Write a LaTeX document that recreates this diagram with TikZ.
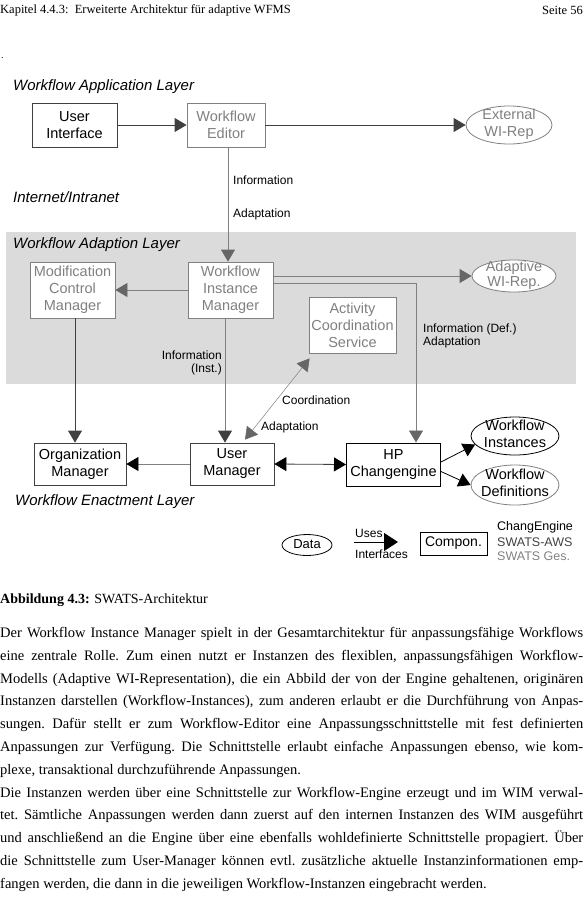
\documentclass[tikz,border=0pt]{standalone}
\usepackage{fontspec}
\setmainfont{Liberation Serif}
\newfontfamily\arial{Liberation Sans}
\usetikzlibrary{arrows.meta,shapes.geometric}

\definecolor{aws}{gray}{0.25}
\definecolor{ges}{gray}{0.5}
\definecolor{band}{gray}{0.86}

\newcommand\compfont{\arial\fontsize{14.5}{17}\selectfont}
\newcommand\lblfont{\arial\fontsize{12}{13}\selectfont}
\newcommand\layerfont{\arial\itshape\fontsize{15}{18}\selectfont}
\newcommand\ovtext[1]{\smash{\makebox[0pt]{\raisebox{-0.25em}{\begin{tabular}{@{}c@{}}#1\end{tabular}}}}}

\tikzset{
  comp/.style={draw=#1, fill=white, line width=0.8pt, align=center, inner sep=0pt, font=\compfont},
  comp/.default=black,
  datum/.style={ellipse, draw=#1, fill=white, line width=0.8pt, inner sep=0pt, font=\compfont},
  datum/.default=black,
  lbl/.style={font=\lblfont, inner sep=0pt, anchor=west},
  layer/.style={font=\layerfont, inner sep=0pt, anchor=west},
  uses/.style={-{Triangle[length=12pt,width=14pt,color=#1,fill=#1]}, line width=0.8pt},
  uses/.default=black,
  usesboth/.style={{Triangle[length=12pt,width=14pt,color=#1,fill=#1]}-{Triangle[length=12pt,width=14pt,color=#1,fill=#1]}, line width=0.8pt},
  usesboth/.default=black
}

\begin{document}
\begin{tikzpicture}[x=1pt, y=-1pt]
\useasboundingbox (0,0) rectangle (585,903);

% Page header
\node[anchor=west, inner sep=0pt, font=\fontsize{12.5}{14}\selectfont] (head) at (0,10) {Kapitel 4.4.3:\ \ Erweiterte Architektur für adaptive WFMS};
\node[anchor=east, inner sep=0pt, font=\fontsize{12.5}{14}\selectfont] (page) at (583,10) {Seite 56};
\node[anchor=west, inner sep=0pt] (dot) at (1,58) {.};

% Adaption layer band
\fill[band] (6,232) rectangle (576,384);

% Layer titles
\node[layer] (lapp) at (13,87) {Workflow Application Layer};
\node[layer] (lnet) at (13,197) {Internet/Intranet};
\node[layer] (ladp) at (13,245) {Workflow Adaption Layer};
\node[layer] (lenc) at (15,502) {Workflow Enactment Layer};

% Components and data
\node[comp=aws, minimum width=85pt, minimum height=44pt] (ui) at (74.5,125) {User\\Interface};
\node[comp=ges, text=ges, minimum width=78pt, minimum height=44pt] (we) at (226,125) {Workflow\\Editor};
\node[datum=ges, text=ges, minimum width=86pt, minimum height=38pt] (ext) at (509,125) {\ovtext{External\\WI-Rep}};
\node[comp=ges, text=ges, minimum width=85pt, minimum height=56pt] (mcm) at (72.5,290) {Modification\\Control\\Manager};
\node[comp=ges, text=ges, minimum width=85pt, minimum height=56pt] (wim) at (230.5,290) {Workflow\\Instance\\Manager};
\node[datum=ges, text=ges, minimum width=84pt, minimum height=32pt, font=\compfont\fontsize{14.5}{15}\selectfont] (arep) at (514,276) {\ovtext{Adaptive\\WI-Rep.}};
\node[comp=ges, text=ges, minimum width=87pt, minimum height=56pt] (acs) at (352.5,325) {Activity\\Coordination\\Service};
\node[comp=aws, minimum width=92pt, minimum height=42pt] (org) at (80,464) {Organization\\Manager};
\node[comp=aws, minimum width=84pt, minimum height=42pt] (um) at (232,464) {User\\Manager};
\node[comp, line width=1pt, minimum width=94pt, minimum height=43pt] (hp) at (393.5,464.5) {HP\\Changengine};
\node[datum, minimum width=88pt, minimum height=38pt] (wfi) at (515,436) {\ovtext{Workflow\\Instances}};
\node[datum=ges, minimum width=88pt, minimum height=40pt] (wfd) at (515,485) {\ovtext{Workflow\\Definitions}};

% Application layer interfaces
\draw[aws, uses=aws] (ui.east) -- (we.west);
\draw[aws, uses=aws] (we.east) -- (ext.west);
\draw[ges, uses=black!60] ([xshift=2pt]we.south) -- ([xshift=-2.5pt]wim.north);
\node[lbl] (winfo) at (233,180) {Information};
\node[lbl] (wadapt) at (233,214) {Adaptation};

% Adaption layer interfaces
\draw[ges, uses=black!60] (wim.west) -- (mcm.east);
\draw[ges, uses=black!60] (wim.east |- arep) -- (arep.west);
\draw[ges, uses=black!60] ([yshift=7pt]wim.east) -| ([xshift=22.5pt]hp.north);
\node[lbl, align=left] (hinfo) at (423,335.5) {Information (Def.)\\Adaptation};
\draw[ges, uses=aws] ([xshift=-5.5pt]wim.south) -- ([xshift=-7pt]um.north);
\node[lbl, anchor=east, align=right] (uinfo) at (222,363) {Information\\(Inst.)};
\draw[aws, uses=aws] ([xshift=2.5pt]mcm.south) -- ([xshift=-5pt]org.north);
\draw[ges, usesboth=black!60, line width=0.5pt] ([xshift=13pt,yshift=3pt]um.north) -- ([xshift=1pt,yshift=-5pt]acs.south west);
\node[lbl] (coord) at (282,400) {Coordination};
\node[lbl] (cadapt) at (261,427) {Adaptation};

% Enactment layer interfaces
\draw[ges, uses] (um.west) -- (org.east);
\draw[aws, usesboth] (um.east) -- (hp.west);
\draw[black, uses] ([yshift=2.5pt]hp.east) -- (wfi.192);
\draw[black, uses] ([yshift=-7pt]hp.east) -- (wfd.west);

% Legend
\node[datum, minimum width=50pt, minimum height=21pt, font=\arial\fontsize{13}{15}\selectfont] (ldata) at (307,545) {\ovtext{Data}};
\coordinate (lusea) at (354,542);
\coordinate (luseb) at (398,542);
\draw[black, line width=0.8pt, -{Triangle[length=14pt,width=18pt]}] (lusea) -- (luseb);
\node[lbl] (luses) at (355,533) {Uses};
\node[lbl] (lintf) at (355,554) {Interfaces};
\node[comp, minimum width=67pt, minimum height=23pt, font=\arial\fontsize{14}{16}\selectfont] (lcomp) at (453.5,543.5) {Compon.};
\node[lbl, font=\arial\fontsize{12.5}{14}\selectfont] (lce) at (497,527) {ChangEngine};
\node[lbl, font=\arial\fontsize{12.5}{14}\selectfont, aws] (laws) at (497,542) {SWATS-AWS};
\node[lbl, font=\arial\fontsize{12.5}{14}\selectfont, ges] (lges) at (497,556) {SWATS Ges.};

% Caption and body text
\node[anchor=west, inner sep=0pt, font=\fontsize{14}{17}\selectfont] (cap) at (0,600) {\textbf{Abbildung 4.3:} SWATS-Architektur};
\node[anchor=north west, inner sep=0pt, text width=583pt, align=justify, font={\fontsize{14.5}{22.8}\selectfont\parindent=0pt\frenchspacing}] (body) at (0,627) {%
Der Workflow Instance Manager spielt in der Gesamtarchitektur für anpassungsfähige Workflows \linebreak
eine zentrale Rolle. Zum einen nutzt er Instanzen des flexiblen, anpassungsfähigen Workflow-\linebreak
Modells (Adaptive WI-Representation), die ein Abbild der von der Engine gehaltenen, originären \linebreak
Instanzen darstellen (Workflow-Instances), zum anderen erlaubt er die Durchführung von Anpas-\linebreak
sungen. Dafür stellt er zum Workflow-Editor eine Anpassungsschnittstelle mit fest definierten \linebreak
Anpassungen zur Verfügung. Die Schnittstelle erlaubt einfache Anpassungen ebenso, wie kom-\linebreak
plexe, transaktional durchzuführende Anpassungen.\par
Die Instanzen werden über eine Schnittstelle zur Workflow-Engine erzeugt und im WIM verwal-\linebreak
tet. Sämtliche Anpassungen werden dann zuerst auf den internen Instanzen des WIM ausgeführt \linebreak
und anschließend an die Engine über eine ebenfalls wohldefinierte Schnittstelle propagiert. Über \linebreak
die Schnittstelle zum User-Manager können evtl. zusätzliche aktuelle Instanzinformationen emp-\linebreak
fangen werden, die dann in die jeweiligen Workflow-Instanzen eingebracht werden.};
\end{tikzpicture}
\end{document}
